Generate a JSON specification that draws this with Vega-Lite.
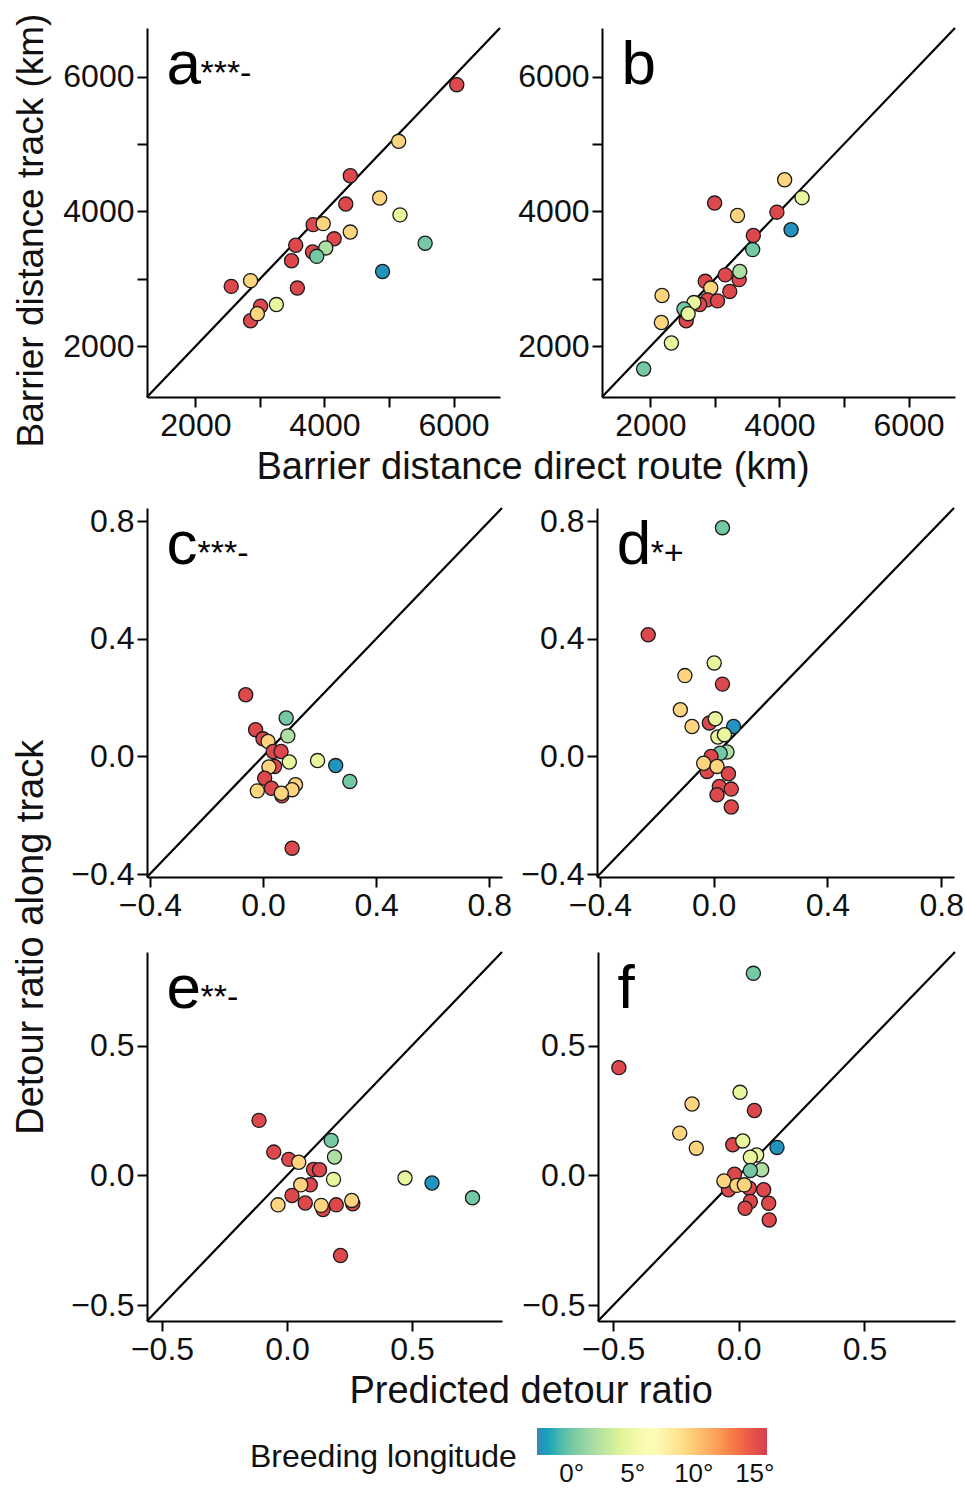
{
  "$schema": "https://vega.github.io/schema/vega-lite/v6.json",
  "padding": {"left": 12, "top": 13, "right": 0, "bottom": 0},
  "datasets": {
    "line1": [{"x": 1250, "y": 1250}, {"x": 6720, "y": 6720}],
    "line2": [{"x": -0.41, "y": -0.41}, {"x": 0.845, "y": 0.845}],
    "line3": [{"x": -0.56, "y": -0.56}, {"x": 0.86, "y": 0.86}],
    "pa": [
      {"x": 6050, "y": 5880, "lon": 15.5}, {"x": 5150, "y": 5040, "lon": 9.5}, {"x": 4400, "y": 4530, "lon": 15.5},
      {"x": 4855, "y": 4200, "lon": 9.5}, {"x": 4330, "y": 4110, "lon": 15.5}, {"x": 5170, "y": 3950, "lon": 4.5},
      {"x": 3825, "y": 3805, "lon": 15.5}, {"x": 3980, "y": 3820, "lon": 9.5}, {"x": 4400, "y": 3695, "lon": 9.5},
      {"x": 4150, "y": 3595, "lon": 15.5}, {"x": 3555, "y": 3500, "lon": 15.5}, {"x": 5560, "y": 3530, "lon": 0},
      {"x": 3815, "y": 3400, "lon": 15.5}, {"x": 4020, "y": 3460, "lon": 2}, {"x": 3880, "y": 3335, "lon": 0},
      {"x": 3490, "y": 3270, "lon": 15.5}, {"x": 4900, "y": 3110, "lon": -2.5}, {"x": 2555, "y": 2890, "lon": 15.5},
      {"x": 2855, "y": 2975, "lon": 9.5}, {"x": 3580, "y": 2865, "lon": 15.5}, {"x": 3255, "y": 2620, "lon": 4.5},
      {"x": 2855, "y": 2380, "lon": 15.5}, {"x": 3010, "y": 2595, "lon": 15.5}, {"x": 2960, "y": 2485, "lon": 9.5}
    ],
    "pb": [
      {"x": 4080, "y": 4470, "lon": 9.5}, {"x": 4350, "y": 4205, "lon": 4.5}, {"x": 2995, "y": 4125, "lon": 15.5},
      {"x": 3350, "y": 3940, "lon": 9.5}, {"x": 3960, "y": 3990, "lon": 15.5}, {"x": 4180, "y": 3730, "lon": -2.5},
      {"x": 3595, "y": 3645, "lon": 15.5}, {"x": 3585, "y": 3435, "lon": 0}, {"x": 3375, "y": 2990, "lon": 15.5},
      {"x": 3385, "y": 3110, "lon": 2}, {"x": 3160, "y": 3060, "lon": 15.5}, {"x": 2850, "y": 2965, "lon": 15.5},
      {"x": 2935, "y": 2865, "lon": 9.5}, {"x": 3230, "y": 2815, "lon": 15.5}, {"x": 2885, "y": 2690, "lon": 15.5},
      {"x": 3040, "y": 2675, "lon": 15.5}, {"x": 2765, "y": 2620, "lon": 15.5}, {"x": 2675, "y": 2650, "lon": 4.5},
      {"x": 2555, "y": 2380, "lon": 15.5}, {"x": 2520, "y": 2555, "lon": 0}, {"x": 2585, "y": 2485, "lon": 4.5},
      {"x": 2180, "y": 2755, "lon": 9.5}, {"x": 2170, "y": 2355, "lon": 9.5}, {"x": 2325, "y": 2050, "lon": 4.5},
      {"x": 1895, "y": 1665, "lon": 0}
    ],
    "pc": [
      {"x": -0.061, "y": 0.21, "lon": 15.5}, {"x": 0.082, "y": 0.131, "lon": 0}, {"x": -0.026, "y": 0.091, "lon": 15.5},
      {"x": 0.088, "y": 0.07, "lon": 2}, {"x": 0.0, "y": 0.06, "lon": 15.5}, {"x": 0.018, "y": 0.051, "lon": 9.5},
      {"x": 0.036, "y": 0.017, "lon": 15.5}, {"x": 0.064, "y": 0.017, "lon": 15.5}, {"x": 0.093, "y": -0.019, "lon": 4.5},
      {"x": 0.193, "y": -0.014, "lon": 4.5}, {"x": 0.257, "y": -0.031, "lon": -2.5}, {"x": 0.041, "y": -0.034, "lon": 15.5},
      {"x": 0.021, "y": -0.036, "lon": 9.5}, {"x": 0.307, "y": -0.085, "lon": 0}, {"x": 0.006, "y": -0.074, "lon": 15.5},
      {"x": 0.03, "y": -0.108, "lon": 15.5}, {"x": -0.02, "y": -0.117, "lon": 9.5}, {"x": 0.067, "y": -0.134, "lon": 15.5},
      {"x": 0.115, "y": -0.096, "lon": 9.5}, {"x": 0.103, "y": -0.113, "lon": 9.5}, {"x": 0.065, "y": -0.125, "lon": 9.5},
      {"x": 0.103, "y": -0.312, "lon": 15.5}
    ],
    "pd": [
      {"x": 0.031, "y": 0.778, "lon": 0}, {"x": -0.23, "y": 0.414, "lon": 15.5}, {"x": 0.002, "y": 0.318, "lon": 4.5},
      {"x": -0.101, "y": 0.275, "lon": 9.5}, {"x": 0.031, "y": 0.246, "lon": 15.5}, {"x": -0.117, "y": 0.159, "lon": 9.5},
      {"x": -0.076, "y": 0.102, "lon": 9.5}, {"x": -0.015, "y": 0.114, "lon": 15.5}, {"x": 0.006, "y": 0.128, "lon": 4.5},
      {"x": 0.07, "y": 0.102, "lon": -2.5}, {"x": 0.015, "y": 0.066, "lon": 4.5}, {"x": 0.038, "y": 0.074, "lon": 4.5},
      {"x": 0.047, "y": 0.015, "lon": 2}, {"x": 0.023, "y": 0.011, "lon": 0}, {"x": -0.009, "y": 0.0, "lon": 15.5},
      {"x": -0.023, "y": -0.051, "lon": 15.5}, {"x": -0.035, "y": -0.023, "lon": 9.5}, {"x": 0.012, "y": -0.034, "lon": 9.5},
      {"x": 0.052, "y": -0.059, "lon": 15.5}, {"x": 0.02, "y": -0.102, "lon": 15.5}, {"x": 0.062, "y": -0.111, "lon": 15.5},
      {"x": 0.012, "y": -0.13, "lon": 15.5}, {"x": 0.062, "y": -0.172, "lon": 15.5}
    ],
    "pe": [
      {"x": -0.112, "y": 0.212, "lon": 15.5}, {"x": 0.177, "y": 0.135, "lon": 0}, {"x": -0.053, "y": 0.09, "lon": 15.5},
      {"x": 0.19, "y": 0.071, "lon": 2}, {"x": 0.007, "y": 0.062, "lon": 15.5}, {"x": 0.047, "y": 0.051, "lon": 9.5},
      {"x": 0.106, "y": 0.023, "lon": 15.5}, {"x": 0.13, "y": 0.022, "lon": 15.5}, {"x": 0.186, "y": -0.015, "lon": 4.5},
      {"x": 0.472, "y": -0.01, "lon": 4.5}, {"x": 0.58, "y": -0.029, "lon": -2.5}, {"x": 0.093, "y": -0.036, "lon": 15.5},
      {"x": 0.055, "y": -0.036, "lon": 9.5}, {"x": 0.742, "y": -0.086, "lon": 0}, {"x": 0.02, "y": -0.077, "lon": 15.5},
      {"x": 0.073, "y": -0.106, "lon": 15.5}, {"x": -0.036, "y": -0.113, "lon": 9.5}, {"x": 0.263, "y": -0.109, "lon": 15.5},
      {"x": 0.259, "y": -0.096, "lon": 9.5}, {"x": 0.144, "y": -0.131, "lon": 15.5}, {"x": 0.137, "y": -0.115, "lon": 9.5},
      {"x": 0.197, "y": -0.113, "lon": 15.5}, {"x": 0.214, "y": -0.308, "lon": 15.5}
    ],
    "pf": [
      {"x": 0.058, "y": 0.778, "lon": 0}, {"x": -0.477, "y": 0.415, "lon": 15.5}, {"x": 0.005, "y": 0.32, "lon": 4.5},
      {"x": -0.186, "y": 0.275, "lon": 9.5}, {"x": 0.062, "y": 0.25, "lon": 15.5}, {"x": -0.235, "y": 0.163, "lon": 9.5},
      {"x": -0.169, "y": 0.105, "lon": 9.5}, {"x": -0.024, "y": 0.118, "lon": 15.5}, {"x": 0.016, "y": 0.133, "lon": 4.5},
      {"x": 0.152, "y": 0.108, "lon": -2.5}, {"x": 0.071, "y": 0.079, "lon": 4.5}, {"x": 0.046, "y": 0.07, "lon": 4.5},
      {"x": 0.091, "y": 0.022, "lon": 2}, {"x": 0.046, "y": 0.019, "lon": 0}, {"x": -0.017, "y": 0.005, "lon": 15.5},
      {"x": -0.041, "y": -0.055, "lon": 15.5}, {"x": -0.059, "y": -0.021, "lon": 9.5}, {"x": 0.042, "y": -0.049, "lon": 15.5},
      {"x": -0.008, "y": -0.038, "lon": 9.5}, {"x": 0.022, "y": -0.036, "lon": 9.5}, {"x": 0.099, "y": -0.055, "lon": 15.5},
      {"x": 0.046, "y": -0.1, "lon": 15.5}, {"x": 0.119, "y": -0.107, "lon": 15.5}, {"x": 0.025, "y": -0.126, "lon": 15.5},
      {"x": 0.121, "y": -0.171, "lon": 15.5}
    ]
  },
  "vconcat": [
    {
      "title": {"text": "Barrier distance direct route (km)", "orient": "bottom", "offset": 2, "dx": 47},
      "spacing": 12,
      "hconcat": [
        {
          "width": 353, "height": 369,
          "layer": [
            {"data": {"name": "line1"}, "mark": {"type": "line", "color": "black", "strokeWidth": 2.2},
             "encoding": {
               "x": {"field": "x", "type": "quantitative", "scale": {"domain": [1250, 6720], "nice": false, "zero": false},
                     "axis": {"values": [2000, 3000, 4000, 5000, 6000], "format": "d", "labelExpr": "datum.value % 2000 == 0 ? datum.label : ''", "title": null}},
               "y": {"field": "y", "type": "quantitative", "scale": {"domain": [1250, 6720], "nice": false, "zero": false},
                     "axis": {"values": [2000, 3000, 4000, 5000, 6000], "format": "d", "labelExpr": "datum.value % 2000 == 0 ? datum.label : ''", "title": "Barrier distance track (km)", "titleY": 202, "titlePadding": 12}}}},
            {"data": {"name": "pa"}, "mark": {"type": "circle", "size": 200, "opacity": 1, "stroke": "#1a1a1a", "strokeWidth": 1.3},
             "encoding": {"x": {"field": "x", "type": "quantitative"}, "y": {"field": "y", "type": "quantitative"},
               "color": {"field": "lon", "type": "quantitative",
                 "scale": {"domain": [-2.85, -0.494, 1.862, 4.219, 6.575, 8.931, 11.288, 13.644, 16], "range": ["#3288bd", "#66c2a5", "#abdda4", "#e6f598", "#ffffbf", "#fee08b", "#fdae61", "#f46d43", "#d53e4f"]},
                 "legend": {"title": "Breeding longitude", "orient": "none", "legendX": 103, "legendY": 1400, "direction": "horizontal", "gradientLength": 230, "gradientThickness": 27, "gradientStrokeWidth": 0, "values": [0, 5, 10, 15], "labelExpr": "datum.value + '°'", "titleOrient": "left", "titleAnchor": "middle", "titleLimit": 0, "titleFontSize": 32, "titleFontWeight": "normal", "titleColor": "#111", "titlePadding": 20, "titleBaseline": "top", "labelFontSize": 26, "labelColor": "#111", "labelOffset": 6, "padding": 0}}}},
            {"data": {"values": [{"t": "a"}]}, "mark": {"type": "text", "fontSize": 62, "align": "left", "baseline": "alphabetic", "color": "black"},
             "encoding": {"x": {"datum": 1551}, "y": {"datum": 5889}, "text": {"field": "t"}}},
            {"data": {"values": [{"t": "***-"}]}, "mark": {"type": "text", "fontSize": 34, "align": "left", "baseline": "alphabetic", "dx": 34, "color": "black"},
             "encoding": {"x": {"datum": 1551}, "y": {"datum": 5889}, "text": {"field": "t"}}}
          ]
        },
        {
          "width": 353, "height": 369,
          "layer": [
            {"data": {"name": "line1"}, "mark": {"type": "line", "color": "black", "strokeWidth": 2.2},
             "encoding": {
               "x": {"field": "x", "type": "quantitative", "scale": {"domain": [1250, 6720], "nice": false, "zero": false},
                     "axis": {"values": [2000, 3000, 4000, 5000, 6000], "format": "d", "labelExpr": "datum.value % 2000 == 0 ? datum.label : ''", "title": null}},
               "y": {"field": "y", "type": "quantitative", "scale": {"domain": [1250, 6720], "nice": false, "zero": false},
                     "axis": {"values": [2000, 3000, 4000, 5000, 6000], "format": "d", "labelExpr": "datum.value % 2000 == 0 ? datum.label : ''", "title": null}}}},
            {"data": {"name": "pb"}, "mark": {"type": "circle", "size": 200, "opacity": 1, "stroke": "#1a1a1a", "strokeWidth": 1.3},
             "encoding": {"x": {"field": "x", "type": "quantitative"}, "y": {"field": "y", "type": "quantitative"},
               "color": {"field": "lon", "type": "quantitative",
                 "scale": {"domain": [-2.85, -0.494, 1.862, 4.219, 6.575, 8.931, 11.288, 13.644, 16], "range": ["#3288bd", "#66c2a5", "#abdda4", "#e6f598", "#ffffbf", "#fee08b", "#fdae61", "#f46d43", "#d53e4f"]},
                 "legend": {"title": "Breeding longitude", "orient": "none", "legendX": 103, "legendY": 1400, "direction": "horizontal", "gradientLength": 230, "gradientThickness": 27, "gradientStrokeWidth": 0, "values": [0, 5, 10, 15], "labelExpr": "datum.value + '°'", "titleOrient": "left", "titleAnchor": "middle", "titleLimit": 0, "titleFontSize": 32, "titleFontWeight": "normal", "titleColor": "#111", "titlePadding": 20, "titleBaseline": "top", "labelFontSize": 26, "labelColor": "#111", "labelOffset": 6, "padding": 0}}}},
            {"data": {"values": [{"t": "b"}]}, "mark": {"type": "text", "fontSize": 62, "align": "left", "baseline": "alphabetic", "color": "black"},
             "encoding": {"x": {"datum": 1551}, "y": {"datum": 5889}, "text": {"field": "t"}}}
          ]
        }
      ]
    },
    {
      "title": {"text": "Detour ratio along track", "orient": "left", "offset": 20, "dx": 20},
      "spacing": 26,
      "vconcat": [
        {
          "spacing": 8,
          "hconcat": [
            {
              "width": 355, "height": 369,
              "layer": [
                {"data": {"name": "line2"}, "mark": {"type": "line", "color": "black", "strokeWidth": 2.2},
                 "encoding": {
                   "x": {"field": "x", "type": "quantitative", "scale": {"domain": [-0.41, 0.845], "nice": false, "zero": false},
                         "axis": {"values": [-0.4, 0, 0.4, 0.8], "format": ".1f", "title": null}},
                   "y": {"field": "y", "type": "quantitative", "scale": {"domain": [-0.41, 0.845], "nice": false, "zero": false},
                         "axis": {"values": [-0.4, 0, 0.4, 0.8], "format": ".1f", "title": null}}}},
                {"data": {"name": "pc"}, "mark": {"type": "circle", "size": 200, "opacity": 1, "stroke": "#1a1a1a", "strokeWidth": 1.3},
                 "encoding": {"x": {"field": "x", "type": "quantitative"}, "y": {"field": "y", "type": "quantitative"},
                   "color": {"field": "lon", "type": "quantitative",
                     "scale": {"domain": [-2.85, -0.494, 1.862, 4.219, 6.575, 8.931, 11.288, 13.644, 16], "range": ["#3288bd", "#66c2a5", "#abdda4", "#e6f598", "#ffffbf", "#fee08b", "#fdae61", "#f46d43", "#d53e4f"]},
                     "legend": {"title": "Breeding longitude", "orient": "none", "legendX": 103, "legendY": 1400, "direction": "horizontal", "gradientLength": 230, "gradientThickness": 27, "gradientStrokeWidth": 0, "values": [0, 5, 10, 15], "labelExpr": "datum.value + '°'", "titleOrient": "left", "titleAnchor": "middle", "titleLimit": 0, "titleFontSize": 32, "titleFontWeight": "normal", "titleColor": "#111", "titlePadding": 20, "titleBaseline": "top", "labelFontSize": 26, "labelColor": "#111", "labelOffset": 6, "padding": 0}}}},
                {"data": {"values": [{"t": "c"}]}, "mark": {"type": "text", "fontSize": 62, "align": "left", "baseline": "alphabetic", "color": "black"},
                 "encoding": {"x": {"datum": -0.341}, "y": {"datum": 0.654}, "text": {"field": "t"}}},
                {"data": {"values": [{"t": "***-"}]}, "mark": {"type": "text", "fontSize": 34, "align": "left", "baseline": "alphabetic", "dx": 31, "color": "black"},
                 "encoding": {"x": {"datum": -0.341}, "y": {"datum": 0.654}, "text": {"field": "t"}}}
              ]
            },
            {
              "width": 357, "height": 369,
              "layer": [
                {"data": {"name": "line2"}, "mark": {"type": "line", "color": "black", "strokeWidth": 2.2},
                 "encoding": {
                   "x": {"field": "x", "type": "quantitative", "scale": {"domain": [-0.41, 0.845], "nice": false, "zero": false},
                         "axis": {"values": [-0.4, 0, 0.4, 0.8], "format": ".1f", "title": null}},
                   "y": {"field": "y", "type": "quantitative", "scale": {"domain": [-0.41, 0.845], "nice": false, "zero": false},
                         "axis": {"values": [-0.4, 0, 0.4, 0.8], "format": ".1f", "title": null}}}},
                {"data": {"name": "pd"}, "mark": {"type": "circle", "size": 200, "opacity": 1, "stroke": "#1a1a1a", "strokeWidth": 1.3},
                 "encoding": {"x": {"field": "x", "type": "quantitative"}, "y": {"field": "y", "type": "quantitative"},
                   "color": {"field": "lon", "type": "quantitative",
                     "scale": {"domain": [-2.85, -0.494, 1.862, 4.219, 6.575, 8.931, 11.288, 13.644, 16], "range": ["#3288bd", "#66c2a5", "#abdda4", "#e6f598", "#ffffbf", "#fee08b", "#fdae61", "#f46d43", "#d53e4f"]},
                     "legend": {"title": "Breeding longitude", "orient": "none", "legendX": 103, "legendY": 1400, "direction": "horizontal", "gradientLength": 230, "gradientThickness": 27, "gradientStrokeWidth": 0, "values": [0, 5, 10, 15], "labelExpr": "datum.value + '°'", "titleOrient": "left", "titleAnchor": "middle", "titleLimit": 0, "titleFontSize": 32, "titleFontWeight": "normal", "titleColor": "#111", "titlePadding": 20, "titleBaseline": "top", "labelFontSize": 26, "labelColor": "#111", "labelOffset": 6, "padding": 0}}}},
                {"data": {"values": [{"t": "d"}]}, "mark": {"type": "text", "fontSize": 62, "align": "left", "baseline": "alphabetic", "color": "black"},
                 "encoding": {"x": {"datum": -0.341}, "y": {"datum": 0.654}, "text": {"field": "t"}}},
                {"data": {"values": [{"t": "*+"}]}, "mark": {"type": "text", "fontSize": 34, "align": "left", "baseline": "alphabetic", "dx": 34, "color": "black"},
                 "encoding": {"x": {"datum": -0.341}, "y": {"datum": 0.654}, "text": {"field": "t"}}}
              ]
            }
          ]
        },
        {
          "title": {"text": "Predicted detour ratio", "orient": "bottom", "offset": 8, "dx": 16},
          "spacing": 14,
          "hconcat": [
            {
              "width": 355, "height": 369,
              "layer": [
                {"data": {"name": "line3"}, "mark": {"type": "line", "color": "black", "strokeWidth": 2.2},
                 "encoding": {
                   "x": {"field": "x", "type": "quantitative", "scale": {"domain": [-0.56, 0.86], "nice": false, "zero": false},
                         "axis": {"values": [-0.5, 0, 0.5], "format": ".1f", "title": null}},
                   "y": {"field": "y", "type": "quantitative", "scale": {"domain": [-0.56, 0.86], "nice": false, "zero": false},
                         "axis": {"values": [-0.5, 0, 0.5], "format": ".1f", "title": null}}}},
                {"data": {"name": "pe"}, "mark": {"type": "circle", "size": 200, "opacity": 1, "stroke": "#1a1a1a", "strokeWidth": 1.3},
                 "encoding": {"x": {"field": "x", "type": "quantitative"}, "y": {"field": "y", "type": "quantitative"},
                   "color": {"field": "lon", "type": "quantitative",
                     "scale": {"domain": [-2.85, -0.494, 1.862, 4.219, 6.575, 8.931, 11.288, 13.644, 16], "range": ["#3288bd", "#66c2a5", "#abdda4", "#e6f598", "#ffffbf", "#fee08b", "#fdae61", "#f46d43", "#d53e4f"]},
                     "legend": {"title": "Breeding longitude", "orient": "none", "legendX": 103, "legendY": 1400, "direction": "horizontal", "gradientLength": 230, "gradientThickness": 27, "gradientStrokeWidth": 0, "values": [0, 5, 10, 15], "labelExpr": "datum.value + '°'", "titleOrient": "left", "titleAnchor": "middle", "titleLimit": 0, "titleFontSize": 32, "titleFontWeight": "normal", "titleColor": "#111", "titlePadding": 20, "titleBaseline": "top", "labelFontSize": 26, "labelColor": "#111", "labelOffset": 6, "padding": 0}}}},
                {"data": {"values": [{"t": "e"}]}, "mark": {"type": "text", "fontSize": 62, "align": "left", "baseline": "alphabetic", "color": "black"},
                 "encoding": {"x": {"datum": -0.482}, "y": {"datum": 0.644}, "text": {"field": "t"}}},
                {"data": {"values": [{"t": "**-"}]}, "mark": {"type": "text", "fontSize": 34, "align": "left", "baseline": "alphabetic", "dx": 34, "color": "black"},
                 "encoding": {"x": {"datum": -0.482}, "y": {"datum": 0.644}, "text": {"field": "t"}}}
              ]
            },
            {
              "width": 357, "height": 369,
              "layer": [
                {"data": {"name": "line3"}, "mark": {"type": "line", "color": "black", "strokeWidth": 2.2},
                 "encoding": {
                   "x": {"field": "x", "type": "quantitative", "scale": {"domain": [-0.56, 0.86], "nice": false, "zero": false},
                         "axis": {"values": [-0.5, 0, 0.5], "format": ".1f", "title": null}},
                   "y": {"field": "y", "type": "quantitative", "scale": {"domain": [-0.56, 0.86], "nice": false, "zero": false},
                         "axis": {"values": [-0.5, 0, 0.5], "format": ".1f", "title": null}}}},
                {"data": {"name": "pf"}, "mark": {"type": "circle", "size": 200, "opacity": 1, "stroke": "#1a1a1a", "strokeWidth": 1.3},
                 "encoding": {"x": {"field": "x", "type": "quantitative"}, "y": {"field": "y", "type": "quantitative"},
                   "color": {"field": "lon", "type": "quantitative",
                     "scale": {"domain": [-2.85, -0.494, 1.862, 4.219, 6.575, 8.931, 11.288, 13.644, 16], "range": ["#3288bd", "#66c2a5", "#abdda4", "#e6f598", "#ffffbf", "#fee08b", "#fdae61", "#f46d43", "#d53e4f"]},
                     "legend": {"title": "Breeding longitude", "orient": "none", "legendX": 103, "legendY": 1400, "direction": "horizontal", "gradientLength": 230, "gradientThickness": 27, "gradientStrokeWidth": 0, "values": [0, 5, 10, 15], "labelExpr": "datum.value + '°'", "titleOrient": "left", "titleAnchor": "middle", "titleLimit": 0, "titleFontSize": 32, "titleFontWeight": "normal", "titleColor": "#111", "titlePadding": 20, "titleBaseline": "top", "labelFontSize": 26, "labelColor": "#111", "labelOffset": 6, "padding": 0}}}},
                {"data": {"values": [{"t": "f"}]}, "mark": {"type": "text", "fontSize": 62, "align": "left", "baseline": "alphabetic", "color": "black"},
                 "encoding": {"x": {"datum": -0.482}, "y": {"datum": 0.644}, "text": {"field": "t"}}}
              ]
            }
          ]
        }
      ]
    }
  ],
  "spacing": 16,
  "config": {
    "font": "Liberation Sans",
    "view": {"stroke": null},
    "axis": {"grid": false, "domainColor": "black", "domainWidth": 2, "tickColor": "black", "tickWidth": 2, "tickSize": 10,
             "labelFontSize": 32, "labelColor": "#111", "labelPadding": 3, "labelFlush": false, "labelOverlap": false, "labelBound": false,
             "titleFontSize": 37, "titleFontWeight": "normal", "titleColor": "#111"},
    "title": {"fontSize": 38, "fontWeight": "normal", "color": "#111", "anchor": "middle"}
  }
}
